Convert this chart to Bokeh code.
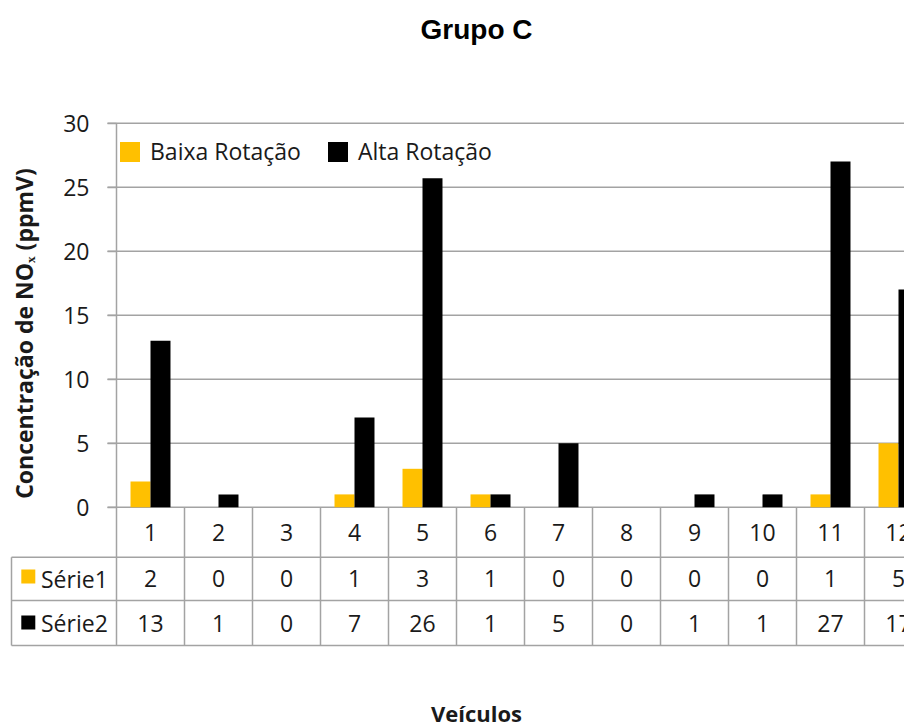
import math
from bokeh.plotting import figure
from bokeh.models import LinearAxis, FixedTicker, Legend, LegendItem, ColumnDataSource
from bokeh.transform import dodge
from bokeh.core.properties import value
from bokeh.embed import file_html
from bokeh.resources import INLINE

# ---------------- data ----------------
title_text = "Grupo C"
y_label = "Concentração de NOₓ (ppmV)"
x_label = "Veículos"
categories = ["1", "2", "3", "4", "5", "6", "7", "8", "9", "10", "11", "12"]
veiculos = [1, 2, 3, 4, 5, 6, 7, 8, 9, 10, 11, 12]
baixa = [2, 0, 0, 1, 3, 1, 0, 0, 0, 0, 1, 5]
alta = [13, 1, 0, 7, 25.7, 1, 5, 0, 1, 1, 27, 17]
series_names = ["Baixa Rotação", "Alta Rotação"]
table_rows = ["Série1", "Série2"]
y_ticks = [0, 5, 10, 15, 20, 25, 30]

# ---------------- style / layout ----------------
ORANGE = "#FFC000"
BLACK = "#000000"
GRID = "#a3a3a3"
TXT = "#1a1a1a"
FONT = "Open Sans"
FS = "23px"
W, H = 904, 725

X0_PAGE = 150.0     # page x of the centre of category 1
CAT_PX = 68.0       # width of one category
Y0_PAGE = 506.7     # page y of value 0
UNIT_PX = 12.8      # pixels per unit


def dx(page_x):
    return 1 + (page_x - X0_PAGE) / CAT_PX


def dy(page_y):
    return (Y0_PAGE - page_y) / UNIT_PX


x_start, x_end = dx(0), dx(W)
y_start, y_end = dy(H), dy(0)

p = figure(width=W, height=H, x_range=(x_start, x_end), y_range=(y_start, y_end),
           x_axis_type=None, y_axis_type=None, toolbar_location=None,
           output_backend="svg", min_border=0, outline_line_color=None)
p.background_fill_color = "white"
p.border_fill_color = "white"

# gridlines (from tick end to the right)
p.segment(x0=dx(107), y0=y_ticks, x1=x_end, y1=y_ticks, line_color=GRID, line_width=1.5)

# y axis
yax = LinearAxis(fixed_location=0.5, bounds=(0, 30), ticker=FixedTicker(ticks=y_ticks))
yax.axis_line_color = GRID
yax.axis_line_width = 1.5
yax.major_tick_line_color = GRID
yax.major_tick_line_width = 1.5
yax.major_tick_out = 9
yax.major_tick_in = 0
yax.minor_tick_line_color = None
yax.major_label_standoff = 18
yax.major_label_text_font = FONT
yax.major_label_text_font_size = FS
yax.major_label_text_color = TXT
p.add_layout(yax, "left")

# bars
src = ColumnDataSource(dict(x=veiculos, baixa=baixa, alta=alta))
r1 = p.vbar(x=dodge("x", -0.147, range=p.x_range), top="baixa", width=0.294, bottom=0,
            source=src, fill_color=ORANGE, line_color=None)
r2 = p.vbar(x=dodge("x", 0.147, range=p.x_range), top="alta", width=0.294, bottom=0,
            source=src, fill_color=BLACK, line_color=None)

# data table lines
row_y = [dy(556.7), dy(600), dy(645)]
p.segment(x0=dx(11), y0=row_y, x1=x_end, y1=row_y, line_color=GRID, line_width=1.5)
bounds_x = [v - 0.5 for v in veiculos]
p.segment(x0=bounds_x, y0=0, x1=bounds_x, y1=dy(645), line_color=GRID, line_width=1.5)
p.segment(x0=[dx(11)], y0=[dy(556.7)], x1=[dx(11)], y1=[dy(645)], line_color=GRID, line_width=1.5)

# table texts
p.text(x=veiculos, y=[dy(531.7)] * len(veiculos), text=categories, text_align="center",
       text_baseline="middle", text_font=value(FONT), text_font_size=FS, text_color=TXT)
p.text(x=veiculos, y=[dy(578)] * len(veiculos), text=[f"{v:.0f}" for v in baixa],
       text_align="center", text_baseline="middle", text_font=value(FONT),
       text_font_size=FS, text_color=TXT)
p.text(x=veiculos, y=[dy(622.5)] * len(veiculos), text=[f"{v:.0f}" for v in alta],
       text_align="center", text_baseline="middle", text_font=value(FONT),
       text_font_size=FS, text_color=TXT)
p.scatter(x=[dx(27.8)] * 2, y=[dy(576), dy(622)], marker="square", size=14,
          fill_color=[ORANGE, BLACK], line_color=None)
p.text(x=[dx(40.5)] * 2, y=[dy(578), dy(622.5)], text=table_rows, text_align="left",
       text_baseline="middle", text_font=value(FONT), text_font_size=FS, text_color=TXT)

# titles
p.text(x=[dx(476)], y=[dy(29)], text=[title_text], text_align="center", text_baseline="middle",
       text_font=value("Liberation Sans"), text_font_style="bold", text_font_size="28px",
       text_color=BLACK)
p.text(x=[dx(23.5)], y=[dy(333)], text=[y_label], angle=math.pi / 2, text_align="center",
       text_baseline="middle", text_font=value(FONT), text_font_style="bold",
       text_font_size="23px", text_color=TXT)
p.text(x=[dx(476)], y=[dy(712)], text=[x_label], text_align="center", text_baseline="middle",
       text_font=value(FONT), text_font_style="bold", text_font_size="22px", text_color=TXT)

# legend
legend = Legend(items=[LegendItem(label=series_names[0], renderers=[r1]),
                       LegendItem(label=series_names[1], renderers=[r2])],
                orientation="horizontal", location=(117, 558), glyph_width=25, glyph_height=25,
                label_standoff=8, spacing=24, padding=0, margin=0, border_line_color=None,
                background_fill_alpha=0, label_text_font=FONT, label_text_font_size=FS,
                label_text_color=TXT)
p.add_layout(legend)

open("out.html", "w").write(file_html(p, INLINE))
